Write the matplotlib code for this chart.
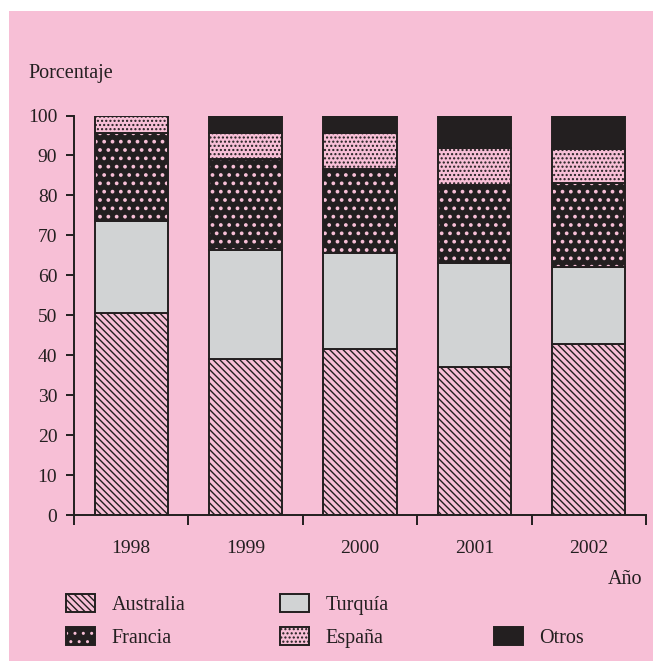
import matplotlib
matplotlib.use("Agg")
import matplotlib.pyplot as plt
from matplotlib.patches import Rectangle, Patch
from matplotlib.legend_handler import HandlerTuple
import numpy as np

plt.rcParams['font.family'] = ['Liberation Serif', 'DejaVu Serif']
plt.rcParams['hatch.linewidth'] = 1.0

years = ['1998', '1999', '2000', '2001', '2002']
australia = [50.6, 39.1, 41.6, 37.2, 42.8]
turquia = [23.0, 27.2, 23.9, 25.8, 19.4]
francia = [21.9, 22.8, 21.1, 19.6, 20.8]
espana = [4.5, 6.4, 9.1, 9.3, 8.5]
otros = [0.0, 4.5, 4.3, 8.1, 8.5]

PINK = '#F7BFD6'
DARK = '#231F20'
GRAY = '#D1D3D4'

H_AUS = '\\\\\\\\\\'
H_FRA = '..'
H_ESP = '....'

W, H = 653, 661
fig = plt.figure(figsize=(W / 100, H / 100), dpi=100, facecolor='white')
fig.patches.append(Rectangle((9 / W, 0), 1 - 9 / W, (H - 11) / H,
                             transform=fig.transFigure, facecolor=PINK,
                             edgecolor='none', zorder=-10))

ax = fig.add_axes([74 / W, (H - 515.3) / H, (646 - 74) / W, (515.3 - 115.5) / H])
ax.set_facecolor('none')

x = np.arange(len(years))
bw = 0.64
lw = 1.4
bottom = np.zeros(len(years))

ax.bar(x, australia, bw, bottom=bottom, facecolor=PINK, edgecolor=DARK,
       hatch=H_AUS, linewidth=lw)
bottom += np.array(australia)
ax.bar(x, turquia, bw, bottom=bottom, facecolor=GRAY, edgecolor=DARK, linewidth=lw)
bottom += np.array(turquia)
with plt.rc_context({'hatch.linewidth': 1.5}):
    ax.bar(x, francia, bw, bottom=bottom, facecolor=DARK, edgecolor=PINK,
           hatch=H_FRA, linewidth=0)
    h_fra_dots = Patch(facecolor=DARK, edgecolor=PINK, hatch=H_FRA, linewidth=0)
ax.bar(x, francia, bw, bottom=bottom, facecolor='none', edgecolor=DARK, linewidth=lw)
bottom += np.array(francia)
ax.bar(x, espana, bw, bottom=bottom, facecolor=PINK, edgecolor=DARK,
       hatch=H_ESP, linewidth=lw)
bottom += np.array(espana)
ax.bar(x, otros, bw, bottom=bottom, facecolor=DARK, edgecolor=DARK, linewidth=lw)

ax.set_xlim(-0.5, len(years) - 0.5)
ax.set_ylim(0, 100)
ax.set_yticks(np.arange(0, 101, 10))
ax.set_xticks(np.arange(len(years) + 1) - 0.5)
ax.set_xticklabels([])
ax.set_xticks(x, minor=True)
ax.set_xticklabels(years, minor=True)
ax.tick_params(axis='x', which='major', direction='out', length=7, width=1.4, color=DARK)
ax.tick_params(axis='x', which='minor', length=0, pad=18, labelsize=14, labelcolor=DARK)
ax.tick_params(axis='y', direction='out', length=6, width=1.4, color=DARK,
               labelsize=14, labelcolor=DARK, pad=6)
for s in ['top', 'right']:
    ax.spines[s].set_visible(False)
for s in ['left', 'bottom']:
    ax.spines[s].set_color(DARK)
    ax.spines[s].set_linewidth(1.4)

fig.text(28 / W, 1 - 78 / H, 'Porcentaje', fontsize=14.5, color=DARK, ha='left', va='baseline')
fig.text(642 / W, 1 - 584 / H, 'Año', fontsize=14.5, color=DARK, ha='right', va='baseline')

h_aus = Patch(facecolor=PINK, edgecolor=DARK, hatch=H_AUS, linewidth=lw)
h_tur = Patch(facecolor=GRAY, edgecolor=DARK, linewidth=lw)
h_fra = (h_fra_dots, Patch(facecolor='none', edgecolor=DARK, linewidth=lw))
h_esp = Patch(facecolor=PINK, edgecolor=DARK, hatch=H_ESP, linewidth=lw)
h_blank = Patch(facecolor='none', edgecolor='none')
h_otr = Patch(facecolor=DARK, edgecolor=DARK, linewidth=lw)

columns = [([h_aus, h_fra], ['Australia', 'Francia'], 66),
           ([h_tur, h_esp], ['Turquía', 'España'], 280),
           ([h_blank, h_otr], ['', 'Otros'], 494)]
for handles, labels, x0 in columns:
    leg = fig.legend(handles, labels, ncol=1, loc='upper left',
                     bbox_to_anchor=(x0 / W, 1 - 594 / H),
                     frameon=False, fontsize=14.5, handlelength=1.45, handleheight=1.0,
                     handletextpad=0.8, labelspacing=0.6,
                     borderpad=0, borderaxespad=0,
                     handler_map={tuple: HandlerTuple(ndivide=1)})
    for t in leg.get_texts():
        t.set_color(DARK)

fig.savefig('out.png', dpi=100, facecolor='white')
